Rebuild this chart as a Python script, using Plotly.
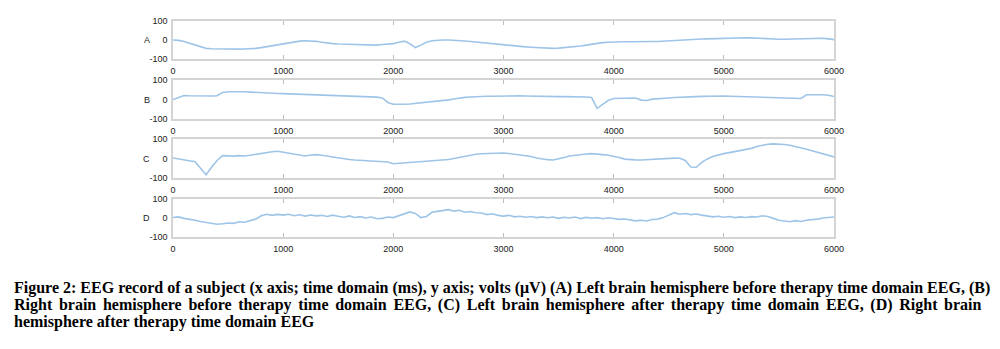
import plotly.graph_objects as go

# time axis (ms), 50 ms grid
time_ms = list(range(0, 6001, 50))

panel_labels = ["A", "B", "C", "D"]
x_ticks = [0, 1000, 2000, 3000, 4000, 5000, 6000]
y_ticks = [-100, 0, 100]

# (A) Left hemisphere before therapy
eeg_a = [0, -2, -8, -18, -28, -37, -44, -46, -47, -48,
         -48, -48, -48, -47, -47, -44, -40, -35, -30, -24,
         -18, -13, -9, -6, -4, -5, -7, -12, -17, -19,
         -21, -22, -23, -25, -27, -28, -29, -27, -24, -21,
         -19, -12, -6, -20, -40, -27, -12, -4, -1, 0,
         0, -1, -3, -5, -8, -11, -14, -18, -21, -24,
         -26, -29, -31, -34, -36, -38, -40, -42, -43, -44,
         -43, -41, -38, -35, -32, -27, -22, -18, -14, -12,
         -10, -10, -9, -9, -8, -8, -8, -8, -8, -6,
         -4, -2, -1, 1, 2, 4, 5, 6, 7, 8,
         8, 10, 12, 13, 12, 11, 9, 7, 5, 4,
         4, 4, 5, 5, 4, 5, 7, 8, 9, 6,
         2]

# (B) Right hemisphere before therapy
eeg_b = [0, 12, 20, 19, 18, 17, 17, 18, 19, 36,
         40, 41, 41, 40, 38, 36, 34, 33, 32, 31,
         30, 29, 29, 28, 27, 26, 25, 23, 22, 20,
         19, 18, 17, 17, 16, 15, 14, 12, 8, -15,
         -24, -25, -24, -23, -20, -18, -15, -13, -10, -6,
         -2, 3, 8, 11, 13, 15, 16, 17, 17, 18,
         18, 18, 18, 19, 18, 17, 17, 16, 16, 15,
         15, 15, 15, 14, 14, 13, 10, -45, -25, -5,
         5, 6, 8, 8, 8, -3, -5, 2, 5, 7,
         8, 10, 12, 13, 14, 15, 16, 17, 17, 18,
         18, 17, 16, 15, 14, 13, 12, 11, 10, 10,
         9, 8, 7, 6, 5, 24, 25, 25, 24, 22,
         15]

# (C) Left hemisphere after therapy
eeg_c = [3, -2, -8, -12, -17, -50, -83, -45, -10, 15,
         14, 12, 15, 13, 17, 22, 28, 33, 35, 37,
         32, 25, 21, 16, 13, 18, 20, 17, 12, 8,
         2, -1, -5, -8, -10, -13, -13, -15, -16, -18,
         -27, -25, -22, -21, -20, -18, -16, -13, -10, -7,
         -5, 0, 6, 12, 18, 22, 24, 25, 27, 28,
         28, 26, 22, 20, 17, 10, 3, -2, -6, -8,
         -3, 5, 13, 17, 20, 23, 25, 24, 20, 17,
         12, 5, -3, -6, -7, -8, -6, -4, -1, 1,
         3, 2, 1, -10, -44, -45, -20, -2, 10, 18,
         25, 30, 35, 40, 45, 52, 62, 68, 73, 75,
         74, 72, 68, 62, 55, 47, 40, 32, 24, 16,
         8]

# (D) Right hemisphere after therapy
eeg_d = [3, 6, -2, -6, -12, -18, -22, -28, -33, -30,
         -26, -28, -20, -22, -14, -6, 12, 20, 14, 19,
         15, 20, 12, 17, 10, 16, 11, 14, 8, 15,
         9, 4, 11, 3, 7, 0, 5, -4, -2, 5,
         2, 12, 18, 32, 24, 2, 8, 30, 35, 38,
         44, 36, 41, 30, 34, 28, 26, 18, 22, 14,
         10, 14, 6, 9, 4, 8, 2, 6, 1, 5,
         -2, 4, 0, 5, -3, 3, -1, 2, -4, 1,
         -3, -7, -5, -11, -15, -12, -16, -8, -6, 2,
         14, 28, 20, 24, 18, 21, 15, 12, 6, 9,
         4, 8, 2, 6, 3, 7, 5, 12, 8, -2,
         -12, -16, -20, -14, -18, -12, -10, -6, 0, 3,
         5]

series = [eeg_a, eeg_b, eeg_c, eeg_d]

caption_lines = [
    "Figure 2: EEG record of a subject (x axis; time domain (ms), y axis; volts (\u03bcV) (A) Left brain hemisphere before therapy time domain EEG, (B)",
    "Right brain hemisphere before therapy time domain EEG, (C) Left brain hemisphere after therapy time domain EEG, (D) Right brain",
    "hemisphere after therapy time domain EEG",
]
caption_justify = [False, True, False]

# layout geometry (pixels)
W, H = 1000, 349
M_L, M_R, M_T, M_B = 173, 166, 21, 112
PH = H - M_T - M_B
PW = W - M_L - M_R
panel_px = [(21, 59), (80, 119), (139, 178), (199, 237)]

fig = go.Figure()
line_color = "#9ec5e8"
frame_color = "#d4d4d4"
tick_font = dict(family="Liberation Sans, Arial, sans-serif", size=9, color="#222")

for i, (vals, lab) in enumerate(zip(series, panel_labels)):
    n = i + 1
    xa = "x" if n == 1 else f"x{n}"
    ya = "y" if n == 1 else f"y{n}"
    fig.add_trace(go.Scatter(x=time_ms, y=vals, mode="lines",
                             line=dict(color=line_color, width=1.6),
                             xaxis=xa, yaxis=ya, showlegend=False,
                             hoverinfo="skip"))
    top, bot = panel_px[i]
    dom = [1 - (bot - M_T) / PH, 1 - (top - M_T) / PH]
    xkey = "xaxis" if n == 1 else f"xaxis{n}"
    ykey = "yaxis" if n == 1 else f"yaxis{n}"
    fig.update_layout({
        xkey: dict(domain=[0, 1], anchor=ya, range=[0, 6000],
                   tickvals=x_ticks, ticktext=[str(v) for v in x_ticks],
                   ticks="inside", ticklen=4, tickcolor="#bdbdbd", tickwidth=1,
                   showline=True, linecolor=frame_color, linewidth=1.5,
                   mirror="ticks", showgrid=False, zeroline=False,
                   tickfont=tick_font, ticklabelstandoff=2, fixedrange=True,
                   automargin=False),
        ykey: dict(domain=dom, anchor=xa, range=[-100, 100],
                   tickvals=y_ticks, ticktext=[str(v) for v in y_ticks],
                   ticks="", showline=True, linecolor=frame_color, linewidth=1.5,
                   mirror=True, showgrid=False, zeroline=False,
                   tickfont=tick_font, ticklabelstandoff=2, fixedrange=True,
                   automargin=False),
    })
    fig.add_annotation(text=lab, xref="paper", yref="paper",
                       x=0, y=(dom[0] + dom[1]) / 2, xshift=-21,
                       xanchor="right", yanchor="middle", showarrow=False,
                       font=tick_font)

cap_font = dict(family="Liberation Serif, Times New Roman, serif", size=16, color="#000")
cap_y_px = [288, 305, 322]
for txt, ypx, just in zip(caption_lines, cap_y_px, caption_justify):
    if just:
        txt = txt.replace(" ", "\u00a0\u2006")
    fig.add_annotation(text="<b>" + txt + "</b>", xref="paper", yref="paper",
                       x=(12 - M_L) / PW, y=(M_T + PH - ypx) / PH,
                       xanchor="left", yanchor="middle", showarrow=False,
                       font=cap_font)

fig.update_layout(width=W, height=H, margin=dict(l=M_L, r=M_R, t=M_T, b=M_B, autoexpand=False),
                  paper_bgcolor="white", plot_bgcolor="white")

fig.write_html("out.html", config={"displayModeBar": False},
               post_script="document.body.style.margin='0';")
